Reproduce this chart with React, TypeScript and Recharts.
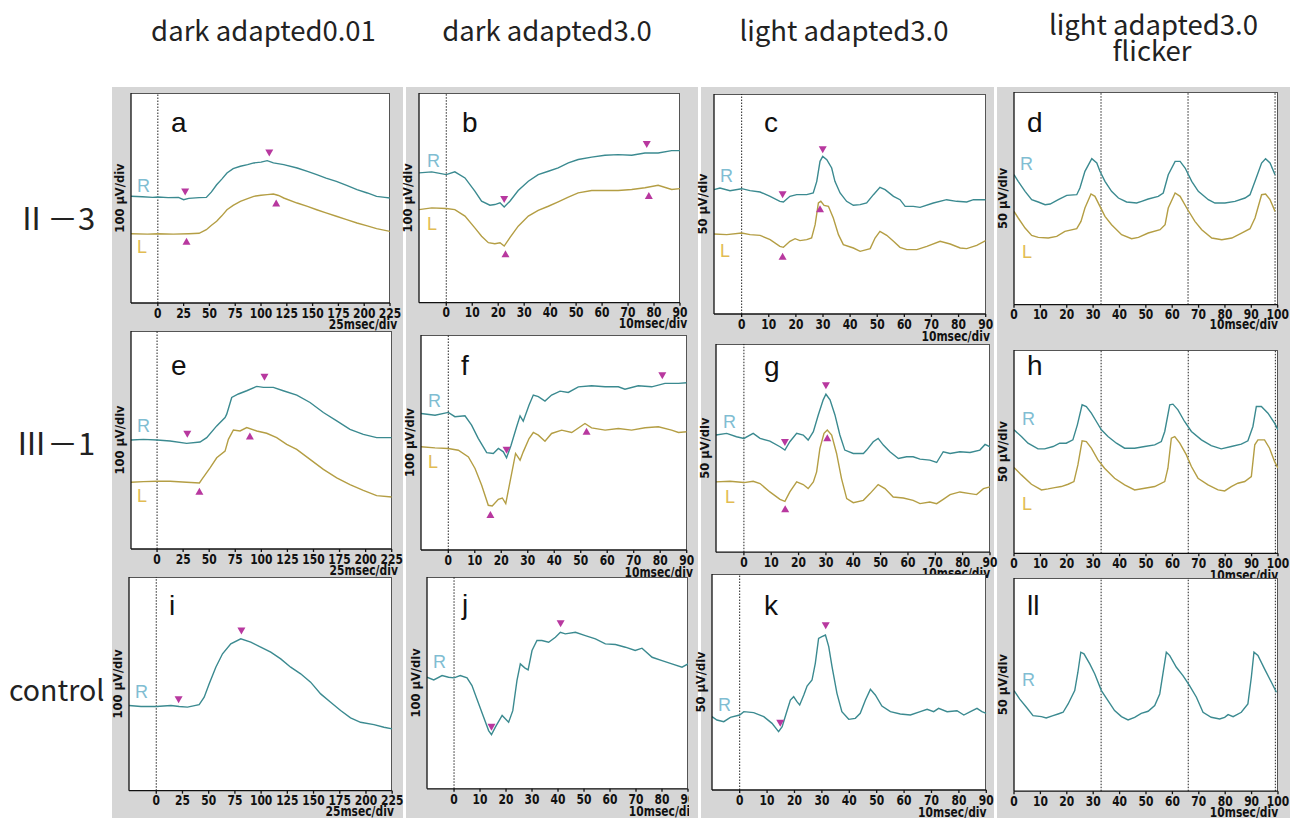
import React from 'react';
import { ComposedChart, Line, Scatter, XAxis, YAxis, ReferenceLine } from 'recharts';

// ---------- labels ----------
const COL_TITLES = ['dark adapted0.01', 'dark adapted3.0', 'light adapted3.0', 'light adapted3.0'];
const COL4_SUB = 'flicker';
const ROW_LABELS = ['Ⅱ－3', 'Ⅲ－1', 'control'];
const X_TICKS_25 = [0, 25, 50, 75, 100, 125, 150, 175, 200, 225];
const X_TICKS_90 = [0, 10, 20, 30, 40, 50, 60, 70, 80, 90];
const X_TICKS_100 = [0, 10, 20, 30, 40, 50, 60, 70, 80, 90, 100];
const Y_TICKS_100 = [-400, -300, -200, -100, 0, 100, 200, 300, 400];
const Y_TICKS_50 = [-200, -150, -100, -50, 0, 50, 100, 150, 200];
const FLICKER_LINES = [33, 66, 99];

// ---------- panel a ----------
const aRt = [-26, -15, -5, 0, 10, 20, 25, 30, 40, 47, 52, 57, 62, 67, 73, 80, 87, 93, 100, 106, 112, 122, 135, 145, 154, 163, 173, 183, 193, 203, 212, 220, 225];
const aRv = [8, 6, 3, 5, 2, 3, -8, -2, 2, 3, 29, 63, 90, 119, 140, 151, 159, 167, 171, 178, 167, 159, 143, 127, 111, 95, 79, 60, 40, 24, 8, 3, 0];
const aLt = [-26, -10, 0, 15, 30, 40, 47, 52, 57, 62, 67, 73, 80, 87, 93, 100, 106, 112, 117, 122, 135, 145, 154, 163, 173, 183, 193, 203, 212, 225];
const aLv = [-170, -172, -170, -172, -170, -168, -151, -130, -111, -85, -56, -35, -16, -3, 8, 13, 16, 19, 12, 0, -24, -40, -56, -71, -87, -103, -119, -133, -146, -159];
const aMRt = [26.5, 108]; const aMRv = [29, 214];
const aMLt = [27.8, 114.7]; const aMLv = [-206, -24];

// ---------- panel b ----------
const bRt = [-10.5, -5.6, 0, 3.3, 7.2, 11, 13.6, 16.8, 18.7, 20.7, 22.3, 24.5, 27.7, 31.6, 35.4, 39.3, 43.1, 47, 50.8, 56, 61.1, 66.2, 71.4, 76.5, 81.6, 86.8, 90];
const bRv = [119, 124, 111, 124, 95, 32, -16, -35, -32, -24, -44, -16, 35, 79, 111, 127, 143, 167, 183, 194, 203, 206, 203, 214, 214, 225, 225];
const bLt = [-10.5, -5.6, 0, 3.3, 7.2, 11, 13.6, 16.2, 18.7, 20.7, 22.3, 24.5, 27.7, 31.6, 35.4, 39.3, 43.1, 47, 50.8, 56, 61.1, 66.2, 71.4, 76.5, 81.6, 86.8, 90];
const bLv = [-56, -48, -51, -56, -87, -143, -183, -214, -219, -214, -230, -190, -135, -87, -60, -40, -19, 3, 24, 35, 35, 35, 40, 48, 60, 40, 44];
const bMRt = [22.3, 77.2]; const bMRv = [-8, 254];
const bMLt = [22.8, 78]; const bMLv = [-267, 11];

// ---------- panel c ----------
const cRt = [-10.2, -8, -4.3, 0, 3.1, 6.8, 10.5, 14.1, 15.4, 17.8, 20.3, 24, 26.4, 27.7, 28.9, 29.9, 31.4, 33.2, 34.4, 36.3, 38.7, 41.2, 43.7, 46.1, 48.6, 51, 52.9, 56, 58.4, 60.3, 63.3, 65.8, 70.7, 75.6, 79.3, 83, 85.5, 90];
const cRv = [32.6, 36.4, 30.3, 34.8, 30.3, 27.3, 17.4, 6.1, 4.5, 17.4, 21.2, 21.2, 25, 51.5, 97, 108.3, 100.8, 81.8, 51.5, 25, 6.1, -3, -1.5, 2.3, 21.2, 37.9, 32.6, 17.4, 9.8, -5.3, -5.3, -7.6, 2.3, 9.8, 6.1, 4.5, 9.8, 9.8];
const cLt = [-10.2, -5.5, 0, 3.1, 6.8, 10.5, 14.1, 15.4, 17.8, 19.7, 21.5, 24, 25.8, 27.1, 28.3, 29.2, 30.4, 32, 33.8, 35.7, 37.5, 41.2, 43.7, 47.4, 49.2, 51, 53.5, 56, 58.4, 60.9, 64.6, 68.3, 73.2, 76.9, 80.6, 83, 86.7, 90];
const cLv = [-68.2, -69.7, -65.9, -69.7, -71.2, -81.1, -96.2, -98.5, -84.8, -78.8, -83.3, -81.1, -77.3, -47, 2.3, 6.1, -3, -5.3, -31.8, -69.7, -92.4, -100, -107.6, -101.5, -77.3, -62.1, -71.2, -84.8, -98.5, -103.8, -103.8, -96.2, -84.8, -90.9, -100, -101.5, -93.9, -83.3];
const cMRt = [15.1, 29.9]; const cMRv = [21.2, 123.5];
const cMLt = [15.1, 28.9]; const cMLv = [-119, -10.6];

// ---------- panel d ----------
const dRt = [0, 1.6, 4.2, 6.7, 9.2, 11.8, 13.7, 16.8, 20, 23.8, 25, 26.9, 29.5, 31.4, 32.6, 34.5, 37, 39.6, 42.7, 46.5, 48.4, 50.9, 54.7, 56.6, 58.5, 61.1, 63, 64.9, 67.4, 69.9, 73.7, 76.2, 80, 83.8, 87.6, 89.5, 91.4, 93.9, 95.4, 97.1, 99];
const dRv = [55.6, 40, 16.5, -3.1, -8.6, -14.9, -13.3, -3.1, 7.1, 8.6, 24.3, 63.5, 93.3, 83.1, 63.5, 40, 16.5, 0.8, -8.6, -11, -7.1, -1.6, 4.7, 12.5, 55.6, 87, 87, 71.3, 40, 16.5, -3.1, -11, -11, -7.1, 0.8, 8.6, 40, 83.1, 93.3, 83.1, 55.6];
const dLt = [0, 1.6, 4.2, 6.7, 9.2, 13, 16.2, 19.3, 23.8, 25.4, 26.9, 29.2, 30.7, 32.6, 34.5, 37, 40.8, 44.6, 47.2, 50.9, 55.4, 57.3, 58.5, 61.1, 63, 65.5, 68.6, 71.2, 75, 78.8, 82.6, 86.3, 89.5, 91.4, 93.9, 95.4, 97.1, 99];
const dLv = [-30.6, -46.2, -69.8, -87, -91.7, -93.3, -89.3, -77.6, -71.3, -54.1, -22.7, 10.2, 4.7, -18.8, -42.3, -61.9, -85.4, -94.8, -91.7, -81.5, -73.7, -61.9, -22.7, 12.5, 4.7, -22.7, -54.1, -73.7, -93.3, -97.2, -93.3, -81.5, -71.3, -46.2, 8.6, 10.2, -3.1, -30.6];

// ---------- panel e ----------
const eRt = [-25, -13, 0, 12.5, 28.4, 41.2, 47.6, 57.2, 65.2, 66.8, 71.6, 78, 86, 95.6, 102, 111.5, 121, 134, 146.7, 159.5, 172.3, 185, 197.8, 210.6, 225];
const eRv = [0, 3, 0, -4.6, -15.4, -9.2, 10.8, 64.6, 103, 118.5, 195, 211, 226, 246, 241.5, 241.5, 226, 206, 172, 126, 88, 49, 26, 11, 11];
const eLt = [-25, -13, 0, 12.5, 28.4, 40.6, 42.8, 50.8, 57.2, 65.2, 68.4, 73.2, 79.6, 86, 95.6, 105.1, 114.7, 124.3, 133.9, 146.7, 159.5, 172.3, 185, 197.8, 210.6, 225];
const eLv = [-194, -191, -189, -189, -194, -197, -181.5, -128, -81.5, -51, 3, 46, 41.5, 57, 41.5, 31, 11, -20, -43, -89, -135, -174, -205, -231, -255, -261.5];
const eMRt = [29, 103]; const eMRv = [26, 288];
const eMLt = [40.6, 89]; const eMLv = [-235, 18.5];

// ---------- panel f ----------
const fRt = [-10.3, -5, 0, 2.5, 6.3, 8.8, 11.3, 14.5, 17, 18.9, 20.8, 22, 23.7, 25.8, 27.1, 28.3, 30.5, 32.1, 34, 36.5, 39, 42.2, 45.3, 49.1, 54.1, 59.2, 64.2, 66.7, 71.7, 76.8, 81.8, 86.9, 90];
const fRv = [135, 127, 140, 120, 124, 81, 19, -47, -51, -28, -43.5, -71.4, -12.4, 73, 124, 99, 174, 220.5, 213, 192.5, 220.5, 239, 233, 259, 264, 259, 259, 248, 264, 259, 275, 275, 278];
const fLt = [-10.3, -5, 0, 3.8, 7.6, 10.1, 12.6, 15.1, 16.6, 18.9, 20.4, 21.7, 23.3, 25.4, 27.1, 28.3, 30.5, 32.1, 34, 36.5, 39, 42.8, 46.6, 51.6, 54.1, 59.2, 64.2, 69.2, 74.3, 79.3, 84.3, 86.9, 90];
const fLv = [-20, -25, -28, -36, -67, -121, -199, -292, -295, -264, -258, -284, -183, -51, -82, -43.5, 18.6, 46.6, 34, 6.2, 42, 57.5, 46.6, 88.5, 68.3, 57.5, 65.2, 57.5, 68.3, 73, 57.5, 46.6, 49.7];
const fMRt = [22, 80.8]; const fMRv = [-35.7, 310.6];
const fMLt = [15.9, 52.2]; const fMLv = [-335, 52.8];

// ---------- panel g ----------
const gRt = [-10.2, -6.3, -2.7, 0, 3.4, 5.9, 9.5, 13.2, 15, 16.8, 19.3, 21.7, 23.5, 25.4, 27.2, 29, 30, 31.5, 33.3, 35.1, 36.9, 40, 43.7, 44.9, 47.3, 49.1, 51, 53.4, 56.5, 59.5, 61.9, 64.4, 68, 70.5, 72.9, 75.4, 79, 82.7, 86.3, 88.2, 90];
const gRv = [31.4, 35.4, 27.3, 23.3, 35.4, 23.3, 16.9, 3.2, -4.8, 15.3, 35.4, 31.4, 19.3, 39.4, 79.6, 115.8, 129.4, 115.8, 79.6, 31.4, -4.8, -12.9, -12.9, -4.8, 15.3, 23.3, 7.2, -8.8, -24.9, -20.9, -20.9, -26.5, -28.9, -34.6, -8.8, -12.9, -8.8, -10.5, -4.8, 8.8, 3.2];
const gLt = [-10.2, -5.1, 0, 3.4, 5.9, 9.5, 13.2, 15, 16.8, 19.3, 21.7, 23.5, 25.4, 26.6, 27.8, 29.3, 30.5, 32.1, 33.9, 35.7, 37.6, 40, 43.7, 46.1, 49.1, 51.6, 54.6, 58.3, 61.9, 64.4, 68, 70.5, 72.9, 75.4, 79, 82.7, 85.1, 87.6, 90];
const gLv = [-81.2, -79.6, -82.8, -79.6, -85.2, -105.3, -123, -127.8, -105.3, -81.2, -87.6, -97.3, -81.2, -57.1, -0.8, 35.4, 43.4, 31.4, -12.9, -73.2, -121.4, -131, -125.4, -109.3, -87.6, -97.3, -117.4, -119.8, -125.4, -133.4, -129.4, -133.4, -123, -111.7, -105.3, -109.3, -111.7, -97.3, -93.2];
const gMRt = [15, 30]; const gMRv = [13.7, 149.5];
const gMLt = [15.1, 30.5]; const gMLv = [-145.5, 24.9];

// ---------- panel h ----------
const hRt = [0, 2.8, 5.3, 9.1, 11.6, 14.8, 17.3, 19.8, 22.3, 24, 25.8, 27.4, 29.3, 31.2, 33.1, 35.6, 38.8, 41.9, 45.7, 49.5, 53.3, 55.8, 57.1, 59, 60.2, 62.1, 64.6, 67.2, 71, 74.7, 78.5, 82.3, 86.1, 88.6, 90.5, 91.8, 93.7, 96.2, 98.7, 100];
const hRv = [39, 23.4, 7.8, -5.5, -5.5, 0, 7.8, 7.8, 15.6, 50.8, 97.7, 93.75, 78.1, 58.6, 39, 23.4, 7.8, -3.9, -3.9, 0, 3.9, 11.7, 35.2, 97.7, 99.2, 85.9, 58.6, 35.2, 15.6, 2.3, -5.5, 0, 5.5, 13.3, 46.9, 93.75, 93.75, 78.1, 54.7, 39];
const hLt = [0, 2.8, 6.6, 10.4, 12.9, 15.4, 17.9, 20.5, 22.7, 24.2, 25.8, 27.4, 29.3, 31.8, 34.3, 38.1, 41.9, 45.7, 49.5, 53.3, 57.1, 58.3, 59.6, 60.9, 62.8, 65.3, 67.2, 69.7, 73.5, 77.3, 79.8, 82.3, 84.8, 87.4, 89.9, 91.2, 92.4, 94.9, 96.8, 98.7, 100];
const hLv = [-49.2, -66.4, -88.3, -101.6, -99.2, -96.1, -93.75, -88.3, -82, -43, 13.3, 11.7, -3.9, -31.25, -50.8, -74.2, -89.8, -101.6, -97.7, -93.75, -82, -50.8, 19.5, 23.4, 7.8, -19.5, -46.9, -74.2, -89.8, -101.6, -103.9, -93.75, -85.9, -82, -70.3, 3.9, 15.6, 15.6, -3.9, -35.2, -50.8];

// ---------- panel i ----------
const iRt = [-26, -14.6, 0, 14, 21.9, 29.8, 40.9, 45.7, 50.5, 56.8, 63.2, 71.1, 80.6, 90.1, 99.6, 109.2, 118.7, 128.2, 137.7, 147.2, 156.8, 166.3, 175.8, 185.3, 194.8, 207.6, 217.1, 225];
const iRv = [-101.6, -106, -106, -101.6, -106, -109, -97, -62.5, 0, 78, 140.6, 187.5, 211, 195, 172, 148, 117, 78, 47, 8, -47, -86, -125, -159, -180, -191, -203, -211];
const iMRt = [21.3, 81.2]; const iMRv = [-75, 247];

// ---------- panel j ----------
const jRt = [-10.4, -7.8, -4.6, -2.1, 0, 2.4, 5, 6.9, 8.8, 11.4, 13.3, 14.4, 15.9, 18.5, 21, 22.6, 24.2, 25.5, 27.2, 28.5, 30, 31.9, 33.8, 36.4, 39, 40.9, 42.8, 46.7, 50.5, 54.4, 58.2, 62.1, 65.9, 69.7, 72.3, 76.2, 80, 83.8, 87.7, 90];
const jRv = [26.8, 14.2, 34.6, 26.8, 23.6, 34.6, 23.6, -12.6, -75.6, -162, -225, -244, -209, -154, -186, -131, 11, 89.8, 70.9, 61.4, 152.8, 200, 200, 192, 215.7, 239, 231.5, 239, 223.6, 207.9, 184, 181, 168.5, 152.8, 163.8, 121, 105.5, 89.8, 74, 89.8];
const jMRt = [14.4, 41]; const jMRv = [-209, 278.7];

// ---------- panel k ----------
const kRt = [-10.1, -8.3, -5.8, -3.4, 0, 1.5, 5.1, 8.8, 11.8, 14.2, 15.5, 17, 18.5, 19.7, 20.9, 21.9, 23.4, 24.6, 26.4, 27.6, 28.8, 30, 31.3, 32.5, 33.7, 35.5, 37.3, 39.8, 42.2, 44, 45.9, 47.7, 49.5, 51.9, 55, 58.6, 62.3, 65.9, 68.4, 70.8, 72.6, 75.7, 79.3, 81.8, 84.2, 86.6, 88.4, 90];
const kRv = [-80.2, -88, -91.8, -81.8, -76.4, -68.7, -71, -80.2, -95.7, -115, -103.4, -72.5, -41.7, -34, -45.5, -53.2, -30.1, -9.3, 4.6, 43.2, 101, 105, 108.8, 81.8, 35.5, -26.2, -68.7, -86.4, -84.1, -72.5, -41.7, -17, -30.1, -55.6, -68.7, -74, -76.4, -68.7, -63.3, -68.7, -61, -68.7, -66.4, -76.4, -68.7, -61, -68.7, -72.5];
const kMRt = [14.8, 31.4]; const kMRv = [-95.7, 130.4];

// ---------- panel ll ----------
const lRt = [0, 2.1, 4.7, 7.2, 10.4, 12.2, 14.8, 16.7, 18.6, 20.5, 23, 24.2, 25.3, 26.5, 28.7, 30.6, 33.1, 35.6, 38.1, 40.7, 43.2, 45.7, 48.2, 50.8, 53.3, 55.2, 56.4, 57.7, 59, 61.5, 64, 66.5, 69.1, 71.6, 74.7, 77.9, 79.8, 81.1, 83, 86.1, 88.6, 89.9, 90.9, 92.4, 94.9, 97.5, 99.4];
const lRv = [-14.1, -33.6, -53.2, -72.8, -75.1, -78.2, -72.8, -68.9, -64.9, -45.4, -14.1, 29, 75.9, 72, 48.5, 25, -14.1, -37.6, -61, -75.1, -82.9, -76.7, -67.3, -62.6, -49.3, -21.9, 25, 75.9, 68.1, 40.7, 21.1, -2.3, -29.7, -64.9, -76.7, -80.6, -76.7, -70.4, -75.1, -64.9, -45.4, 17.2, 75.9, 68.1, 36.8, 5.5, -18];

// ---------- styling ----------
const R_COLOR = '#3b8a90';
const L_COLOR = '#b49e44';
const R_TEXT = '#80bdd2';
const L_TEXT = '#e2bc52';
const MARK = '#b8389f';
const GREY = '#d6d6d6';
const BOLDF = "'DejaVu Sans', 'Liberation Sans', Arial, sans-serif";
const SANS = "'Liberation Sans', Arial, sans-serif";
const CJK = "'Noto Sans CJK JP', 'Noto Sans', sans-serif";

const PADL = 30, PADR = 16, PADT = 4, PADB = 34;

type Pt = { t: number; v: number };
const pts = (t: number[], v: number[]): Pt[] => t.slice(0, Math.min(t.length, v.length)).map((x, i) => ({ t: x, v: v[i] }));

type Spec = {
  key: string; left: number; right: number; top: number; bottom: number;
  xDomain: [number, number]; xTicks: number[]; yDomain: [number, number]; yTicks: number[];
  yLabel: string; unit: string; unitDx: number; unitDy: number;
  R: Pt[]; L?: Pt[]; mR?: Pt[]; mL?: Pt[]; vlines: number[];
  letterPos: [number, number]; rPos: [number, number]; lPos?: [number, number]; clipRight?: number;
};

const triDown = (p: any) => (
  <polygon points={`${p.cx - 4},${p.cy - 3.5} ${p.cx + 4},${p.cy - 3.5} ${p.cx},${p.cy + 3.5}`} fill={MARK} />
);
const triUp = (p: any) => (
  <polygon points={`${p.cx - 4},${p.cy + 3.5} ${p.cx + 4},${p.cy + 3.5} ${p.cx},${p.cy - 3.5}`} fill={MARK} />
);

const XTick = (p: any) => {
  const x = p.x, y = p.y;
  return (
    <text x={0} y={0} dy="0.74em" textAnchor="middle" fontFamily={BOLDF} fontWeight={700} fontSize={14.5} fill="#111"
      transform={`translate(${x},${y - 1}) scale(0.74,1)`}>
      {p.payload.value}
    </text>
  );
};

const PANELS: Spec[] = [
  { key: 'a', left: 131, right: 390, top: 93, bottom: 303, xDomain: [-26, 225], xTicks: X_TICKS_25, yDomain: [-500, 500], yTicks: Y_TICKS_100, yLabel: '100 µV/div', unit: '25msec/div', unitDx: 7, unitDy: 26,
    R: pts(aRt, aRv), L: pts(aLt, aLv), mR: pts(aMRt, aMRv), mL: pts(aMLt, aMLv), vlines: [0], letterPos: [171, 132], rPos: [137, 192], lPos: [137, 253] },
  { key: 'b', left: 419, right: 680, top: 93.3, bottom: 303, xDomain: [-10.5, 90], xTicks: X_TICKS_90, yDomain: [-500, 500], yTicks: Y_TICKS_100, yLabel: '100 µV/div', unit: '10msec/div', unitDx: 7, unitDy: 25,
    R: pts(bRt, bRv), L: pts(bLt, bLv), mR: pts(bMRt, bMRv), mL: pts(bMLt, bMLv), vlines: [0], letterPos: [462, 132], rPos: [427, 167], lPos: [427, 230] },
  { key: 'c', left: 714, right: 985.7, top: 94.3, bottom: 314.3, xDomain: [-10.2, 90], xTicks: X_TICKS_90, yDomain: [-250, 250], yTicks: Y_TICKS_50, yLabel: '50 µV/div', unit: '10msec/div', unitDx: 4, unitDy: 27,
    R: pts(cRt, cRv), L: pts(cLt, cLv), mR: pts(cMRt, cMRv), mL: pts(cMLt, cMLv), vlines: [0], letterPos: [764, 132], rPos: [720, 182], lPos: [720, 257] },
  { key: 'd', left: 1014, right: 1277.7, top: 92.3, bottom: 305, xDomain: [0, 100], xTicks: X_TICKS_100, yDomain: [-250, 250], yTicks: Y_TICKS_50, yLabel: '50 µV/div', unit: '10msec/div', unitDx: 0, unitDy: 24,
    R: pts(dRt, dRv), L: pts(dLt, dLv), vlines: FLICKER_LINES, letterPos: [1027, 132], rPos: [1020, 170], lPos: [1022, 258] },
  { key: 'e', left: 131, right: 391.7, top: 331, bottom: 549, xDomain: [-25, 225], xTicks: X_TICKS_25, yDomain: [-500, 500], yTicks: Y_TICKS_100, yLabel: '100 µV/div', unit: '25msec/div', unitDx: 6, unitDy: 26,
    R: pts(eRt, eRv), L: pts(eLt, eLv), mR: pts(eMRt, eMRv), mL: pts(eMLt, eMLv), vlines: [0], letterPos: [171, 375], rPos: [137, 432], lPos: [137, 502] },
  { key: 'f', left: 421, right: 686.7, top: 335, bottom: 550, xDomain: [-10.3, 90], xTicks: X_TICKS_90, yDomain: [-500, 500], yTicks: Y_TICKS_100, yLabel: '100 µV/div', unit: '10msec/div', unitDx: 6, unitDy: 27,
    R: pts(fRt, fRv), L: pts(fLt, fLv), mR: pts(fMRt, fMRv), mL: pts(fMLt, fMLv), vlines: [0], letterPos: [461, 375], rPos: [428, 407], lPos: [428, 468] },
  { key: 'g', left: 716, right: 990, top: 344.3, bottom: 552.5, xDomain: [-10.2, 90], xTicks: X_TICKS_90, yDomain: [-250, 250], yTicks: Y_TICKS_50, yLabel: '50 µV/div', unit: '10msec/div', unitDx: 0, unitDy: 26,
    R: pts(gRt, gRv), L: pts(gLt, gLv), mR: pts(gMRt, gMRv), mL: pts(gMLt, gMLv), vlines: [0], letterPos: [764, 376], rPos: [723, 428], lPos: [725, 503] },
  { key: 'h', left: 1014.3, right: 1278.3, top: 350, bottom: 553.3, xDomain: [0, 100], xTicks: X_TICKS_100, yDomain: [-250, 226], yTicks: Y_TICKS_50, yLabel: '50 µV/div', unit: '10msec/div', unitDx: 0, unitDy: 27,
    R: pts(hRt, hRv), L: pts(hLt, hLv), vlines: FLICKER_LINES, letterPos: [1027, 375], rPos: [1022, 425], lPos: [1022, 510] },
  { key: 'i', left: 128.5, right: 391.7, top: 577, bottom: 790.7, xDomain: [-26, 225], xTicks: X_TICKS_25, yDomain: [-500, 500], yTicks: Y_TICKS_100, yLabel: '100 µV/div', unit: '25msec/div', unitDx: 1.5, unitDy: 25,
    R: pts(iRt, iRv), mR: pts(iMRt, iMRv), vlines: [0], letterPos: [169, 615], rPos: [135, 698] },
  { key: 'j', left: 426.7, right: 687.7, top: 576.5, bottom: 788.3, xDomain: [-10.4, 90], xTicks: X_TICKS_90, yDomain: [-500, 500], yTicks: Y_TICKS_100, yLabel: '100 µV/div', unit: '10msec/div', unitDx: 9, unitDy: 27,
    R: pts(jRt, jRv), mR: pts(jMRt, jMRv), vlines: [0], letterPos: [462, 614], rPos: [433, 668], clipRight: 689 },
  { key: 'k', left: 711.7, right: 986, top: 574, bottom: 790, xDomain: [-10.1, 90], xTicks: X_TICKS_90, yDomain: [-250, 250], yTicks: Y_TICKS_50, yLabel: '50 µV/div', unit: '10msec/div', unitDx: 0, unitDy: 27,
    R: pts(kRt, kRv), mR: pts(kMRt, kMRv), vlines: [0], letterPos: [764, 615], rPos: [718, 711] },
  { key: 'll', left: 1014.3, right: 1278.3, top: 577.5, bottom: 790.7, xDomain: [0, 100], xTicks: X_TICKS_100, yDomain: [-250, 250], yTicks: Y_TICKS_50, yLabel: '50 µV/div', unit: '10msec/div', unitDx: 0, unitDy: 26,
    R: pts(lRt, lRv), vlines: FLICKER_LINES, letterPos: [1027, 615], rPos: [1022, 686] },
];

function Panel({ s }: { s: Spec }) {
  const w = s.right - s.left;
  const h = s.bottom - s.top;
  const cw = w + PADL + PADR;
  const ch = h + PADT + PADB;
  const cl = s.left - PADL;
  const ct = s.top - PADT;
  const chart = (
    <ComposedChart width={cw} height={ch} margin={{ top: PADT, right: PADR, left: 0, bottom: 0 }}>
      <XAxis type="number" dataKey="t" domain={s.xDomain} ticks={s.xTicks} interval={0} allowDataOverflow
        height={PADB} tickSize={3} tickMargin={2} stroke="#111" strokeWidth={1.3}
        tick={XTick}
        label={{ value: s.unit, position: 'insideBottomRight', offset: 0, dx: s.unitDx, dy: s.unitDy - PADB, fill: '#111', fontSize: 14.5, fontWeight: 700, fontFamily: BOLDF,
          style: { transform: 'scaleX(0.74)', transformBox: 'fill-box', transformOrigin: '100% 100%' } }} />
      <YAxis type="number" dataKey="v" domain={s.yDomain} ticks={s.yTicks} interval={0} allowDataOverflow
        width={PADL} tickSize={4} tick={false} stroke="#111" strokeWidth={1.3}
        label={{ value: s.yLabel, angle: -90, position: 'center', dx: 3.5, fill: '#111', fontSize: 11.5, fontWeight: 700, fontFamily: BOLDF }} />
      {s.vlines.map((x) => (
        <ReferenceLine key={x} x={x} stroke="#222" strokeWidth={1} strokeDasharray="1.5 1.5" />
      ))}
      <Line data={s.R} dataKey="v" type="linear" stroke={R_COLOR} strokeWidth={1.4} dot={false} isAnimationActive={false} />
      {s.L && <Line data={s.L} dataKey="v" type="linear" stroke={L_COLOR} strokeWidth={1.4} dot={false} isAnimationActive={false} />}
      {s.mR && <Scatter data={s.mR} dataKey="v" shape={triDown} isAnimationActive={false} />}
      {s.mL && <Scatter data={s.mL} dataKey="v" shape={triUp} isAnimationActive={false} />}
    </ComposedChart>
  );
  return (
    <>
      <div style={{ position: 'absolute', left: s.left, top: s.top, width: w, height: h, background: '#fff', borderTop: '1px solid #555', borderRight: '1px solid #555', boxSizing: 'border-box' }} />
      <div style={{ position: 'absolute', left: cl, top: ct, width: s.clipRight ? s.clipRight - cl : cw, height: ch, overflow: 'hidden' }}>
        {chart}
      </div>
    </>
  );
}

const COLS = [
  { x0: 112, x1: 403 },
  { x0: 406, x1: 698 },
  { x0: 701, x1: 994 },
  { x0: 997, x1: 1290 },
];

export default function App() {
  return (
    <div style={{ position: 'absolute', left: 0, top: 0, width: 1290, height: 818, background: '#fff', overflow: 'hidden' }}>
      {COLS.map((c, i) => (
        <div key={i} style={{ position: 'absolute', left: c.x0, top: 87, width: c.x1 - c.x0, height: 731, background: GREY }} />
      ))}
      {PANELS.map((s) => <Panel key={s.key} s={s} />)}
      <svg width={1290} height={818} style={{ position: 'absolute', left: 0, top: 0, pointerEvents: 'none' }}>
        <text x={263.5} y={41} textAnchor="middle" fontFamily={CJK} fontSize={27.5} fill="#222">{COL_TITLES[0]}</text>
        <text x={547} y={41} textAnchor="middle" fontFamily={CJK} fontSize={27.5} fill="#222">{COL_TITLES[1]}</text>
        <text x={844} y={41} textAnchor="middle" fontFamily={CJK} fontSize={27.5} fill="#222">{COL_TITLES[2]}</text>
        <text x={1153.5} y={35} textAnchor="middle" fontFamily={CJK} fontSize={27.5} fill="#222">{COL_TITLES[3]}</text>
        <text x={1152} y={61} textAnchor="middle" fontFamily={CJK} fontSize={27.5} fill="#222">{COL4_SUB}</text>
        <text x={16} y={230} fontFamily={CJK} fontSize={31} fill="#222">{ROW_LABELS[0]}</text>
        <text x={16} y={455} fontFamily={CJK} fontSize={31} fill="#222">{ROW_LABELS[1]}</text>
        <text x={9} y={701} fontFamily={CJK} fontSize={28.5} fill="#222">{ROW_LABELS[2]}</text>
        {PANELS.map((s) => (
          <g key={s.key}>
            <text x={s.letterPos[0]} y={s.letterPos[1]} fontFamily={SANS} fontSize={28} fill="#111">{s.key}</text>
            <text x={s.rPos[0]} y={s.rPos[1]} fontFamily={SANS} fontSize={18} fill={R_TEXT}>R</text>
            {s.lPos && <text x={s.lPos[0]} y={s.lPos[1]} fontFamily={SANS} fontSize={18} fill={L_TEXT}>L</text>}
          </g>
        ))}
      </svg>
    </div>
  );
}
